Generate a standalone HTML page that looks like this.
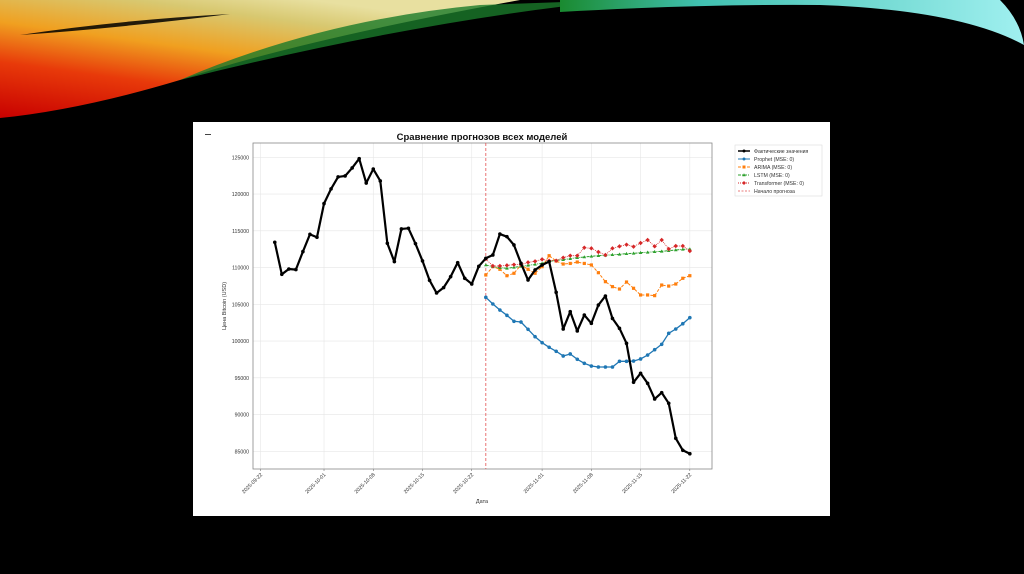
<!DOCTYPE html>
<html><head><meta charset="utf-8"><style>
html,body{margin:0;padding:0;background:#000;width:1024px;height:574px;overflow:hidden}
svg{display:block}
text{font-family:"Liberation Sans","DejaVu Sans",sans-serif}
</style></head><body>
<svg id="s" width="1024" height="574" viewBox="0 0 1024 574">
<defs>
<linearGradient id="warm" x1="0" y1="1" x2="0.6" y2="0">
<stop offset="0" stop-color="#c80000"/><stop offset="0.35" stop-color="#e83a0a"/><stop offset="0.6" stop-color="#f0a020"/><stop offset="0.85" stop-color="#d8c870"/><stop offset="1" stop-color="#e8e0a0"/></linearGradient>
<linearGradient id="cool" x1="0" y1="0" x2="1" y2="0">
<stop offset="0" stop-color="#1a8a30"/><stop offset="0.3" stop-color="#40c0b0"/><stop offset="1" stop-color="#a0f0f0"/></linearGradient>
</defs>
<rect width="1024" height="574" fill="#000"/>
<path d="M0 0 L520 0 Q300 40 180 80 Q80 110 0 118 Z" fill="url(#warm)"/>
<path d="M20 35 Q120 20 230 14 Q120 28 20 35 Z" fill="#000" opacity="0.85"/>
<path d="M180 80 Q320 20 480 5 L620 0 Q420 20 180 80 Z" fill="#1a7a2a" opacity="0.8"/>
<path d="M560 0 L1000 0 Q1020 20 1024 45 Q960 10 820 5 Q700 4 560 12 Z" fill="url(#cool)"/>
<rect x="193" y="122" width="637" height="394" fill="#fff"/>
<rect x="205" y="134" width="6" height="1" fill="#444"/>
<text x="482" y="140" font-size="9.5" font-weight="bold" text-anchor="middle" fill="#111">Сравнение прогнозов всех моделей</text>
<g id="plot"></g>
<text transform="translate(226,306) rotate(-90)" font-size="5.5" text-anchor="middle" fill="#333">Цена Bitcoin (USD)</text>
<text x="482" y="503" font-size="5.5" text-anchor="middle" fill="#333">Дата</text>
<g>
<rect x="735" y="145" width="87" height="51" fill="#fff" stroke="#ddd" stroke-width="0.6"/>
<line x1="738" y1="151" x2="750" y2="151" stroke="#000" stroke-width="1.5"/><circle cx="744" cy="151" r="1.5"/>
<text x="754" y="153" font-size="5.2" fill="#333">Фактические значения</text>
<line x1="738" y1="159" x2="750" y2="159" stroke="#1f77b4" stroke-width="1"/><circle cx="744" cy="159" r="1.5" fill="#1f77b4"/>
<text x="754" y="161" font-size="5.2" fill="#333">Prophet (MSE: 0)</text>
<line x1="738" y1="167" x2="750" y2="167" stroke="#ff7f0e" stroke-width="1" stroke-dasharray="3,1.5"/><rect x="742.5" y="165.5" width="3" height="3" fill="#ff7f0e"/>
<text x="754" y="169" font-size="5.2" fill="#333">ARIMA (MSE: 0)</text>
<line x1="738" y1="175" x2="750" y2="175" stroke="#2ca02c" stroke-width="1" stroke-dasharray="3,1,1,1"/><path d="M744 173.3 L745.7 176.3 L742.3 176.3Z" fill="#2ca02c"/>
<text x="754" y="177" font-size="5.2" fill="#333">LSTM (MSE: 0)</text>
<line x1="738" y1="183" x2="750" y2="183" stroke="#d62728" stroke-width="1" stroke-dasharray="1,1"/><path d="M744 181 L746 183 L744 185 L742 183Z" fill="#d62728"/>
<text x="754" y="185" font-size="5.2" fill="#333">Transformer (MSE: 0)</text>
<line x1="738" y1="191" x2="750" y2="191" stroke="#e35050" stroke-width="0.8" stroke-dasharray="2,1.5"/>
<text x="754" y="193" font-size="5.2" fill="#333">Начало прогноза</text>
</g>
</svg>
<script>
// Day offsets are relative to 2025-09-22
const actualStartDay = 2;
const forecastStartDay = 32;
const actualValues = [113440,109080,109800,109720,112170,114520,114120,118700,120700,122330,122460,123550,124820,121500,123400,121780,113300,110800,115250,115340,113250,110900,108270,106540,107270,108760,110670,108540,107770,110170,111260,
111710,114560,114200,113070,110570,108300,109670,
110350,110800,106630,101640,103990,101370,103540,102410,104900,106130,103080,101730,99690,
94390,95610,94250,92120,92980,91530,86770,85140,84670];
const prophetValues = [105950,105040,104220,103500,102690,102590,101600,100590,99780,99150,98610,97970,98240,97520,96970,96600,96470,96470,96470,97240,97240,97280,97560,98100,98820,99560,101050,101640,102360,103180];
const arimaValues = [108990,110120,109760,108890,109220,110350,109760,109220,110120,111610,110890,110480,110560,110750,110560,110350,109300,108080,107400,107080,108030,107180,106270,106270,106180,107620,107480,107760,108540,108890];
const lstmValues = [110347,110120,109985,109894,110030,110166,110302,110438,110574,110846,110982,111073,111209,111345,111436,111527,111617,111663,111753,111799,111890,111935,112026,112071,112162,112207,112298,112388,112479,112524];
const transformerValues = [111164,110211,110211,110302,110393,110393,110710,110846,111118,110937,110937,111345,111617,111617,112706,112615,112116,111708,112615,112887,113113,112842,113341,113749,112887,113749,112524,112932,112932,112252];
const yTicks = [85000,90000,95000,100000,105000,110000,115000,120000,125000];
const xTickDays = [0,9,16,23,30,40,47,54,61];
const xTickLabels = ["2025-09-22","2025-10-01","2025-10-08","2025-10-15","2025-10-22","2025-11-01","2025-11-08","2025-11-15","2025-11-22"];

const NS="http://www.w3.org/2000/svg";
const L=253,R=712,T=143,B=469;
const xs=d=>260.7+d*7.035;
const ys=v=>157.3+(125000-v)*0.00735;
const g=document.getElementById('plot');
function mk(tag,attrs,parent){const e=document.createElementNS(NS,tag);for(const k in attrs)e.setAttribute(k,attrs[k]);(parent||g).appendChild(e);return e;}
// grid
yTicks.forEach(v=>{
  const l=mk('line',{x1:L,x2:R,y1:ys(v),y2:ys(v),stroke:'#e6e6e6','stroke-width':0.6});
  
  
  const t=mk('text',{x:L-4,y:ys(v)+2,'font-size':5.2,'text-anchor':'end',fill:'#333'});
  t.textContent=v;
  
  
});
xTickDays.forEach((d,i)=>{
  const l=mk('line',{x1:xs(d),x2:xs(d),y1:T,y2:B,stroke:'#e6e6e6','stroke-width':0.6});
  
  
  mk('line',{x1:xs(d),x2:xs(d),y1:B,y2:B+2,stroke:'#555','stroke-width':0.5});
  const t=mk('text',{x:0,y:0,'font-size':5.2,'text-anchor':'end',fill:'#333',transform:`translate(${xs(d)+2},${B+6}) rotate(-45)`});
  t.textContent=xTickLabels[i];
  
  
});
const frame=mk('rect',{x:L,y:T,width:R-L,height:B-T,fill:'none',stroke:'#888','stroke-width':0.8});


// forecast start
const fl=mk('line',{x1:xs(forecastStartDay),x2:xs(forecastStartDay),y1:T,y2:B,stroke:'#e35050','stroke-width':0.8,'stroke-dasharray':'3,2'});


function series(vals,start,color,width,dash,marker,name){
  const pts=vals.map((v,i)=>[xs(start+i),ys(v)]);
  const p=mk('polyline',{points:pts.map(p=>p.join(',')).join(' '),fill:'none',stroke:color,'stroke-width':width,'stroke-dasharray':dash,'stroke-linejoin':'round'});
  
  
  pts.forEach(([x,y])=>{
    let m;
    if(marker==='c') m=mk('circle',{cx:x,cy:y,r:1.8,fill:color});
    else if(marker==='s') m=mk('rect',{x:x-1.6,y:y-1.6,width:3.2,height:3.2,fill:color});
    else if(marker==='t') m=mk('path',{d:`M${x} ${y-1.8}L${x+1.8} ${y+1.3}L${x-1.8} ${y+1.3}Z`,fill:color});
    else m=mk('path',{d:`M${x} ${y-2.2}L${x+2.2} ${y}L${x} ${y+2.2}L${x-2.2} ${y}Z`,fill:color});
    
    
  });
}
series(arimaValues,forecastStartDay,'#ff7f0e',1,'3,1.5','s','arima');
series(lstmValues,forecastStartDay,'#2ca02c',1,'3,1,1,1','t','lstm');
series(transformerValues,forecastStartDay,'#d62728',0.8,'1,1','d','transformer');
series(prophetValues,forecastStartDay,'#1f77b4',1.3,'','c','prophet');
series(actualValues,actualStartDay,'#000',2.2,'','c','actual');
</script>
</body></html>
